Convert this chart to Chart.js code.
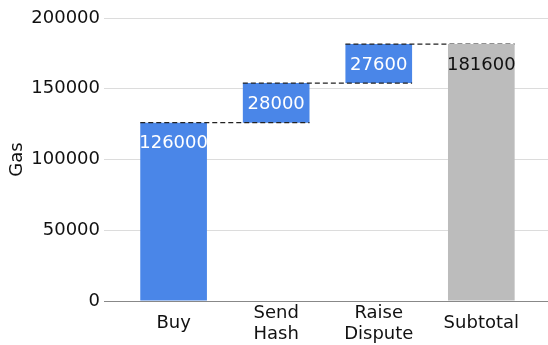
<!DOCTYPE html>
<html lang="en">
  <head>
    <meta charset="UTF-8" />
    <title>Gas waterfall</title>
    <script src="https://cdn.jsdelivr.net/npm/chart.js@4"></script>
    <style>
      html, body { margin: 0; padding: 0; background: #fff; }
      #wrap { width: 548px; height: 345px; position: relative; }
    </style>
  </head>
  <body>
    <div id="wrap"><canvas id="gasChart"></canvas></div>

    <script>
      // Data
      const categories = [["Buy"], ["Send", "Hash"], ["Raise", "Dispute"], ["Subtotal"]];
      const stepValues = [126000, 28000, 27600];
      const subtotal = [181600];
      const yTicks = [0, 50000, 100000, 150000, 200000];

      const FONT = "'DejaVu Sans', sans-serif";
      const FONT_SIZE = 18;
      const BAR_PCT = 0.65;
      const half = BAR_PCT / 2;

      // floating bars for the steps, built by cumulating
      let running = 0;
      const stepBars = stepValues.map((v, i) => {
        const bar = { x: i, y: [running, running + v], label: v };
        running += v;
        return bar;
      });
      const totalBars = subtotal.map((v, i) => ({
        x: stepValues.length + i, y: [0, v], label: v
      }));

      // dashed connectors: from left edge of bar i to right edge of bar i+1
      const connectors = stepBars.map((b, i) => ({
        type: "line",
        data: [
          { x: i - half, y: b.y[1] },
          { x: i + 1 + half, y: b.y[1] }
        ],
        borderColor: "#222",
        borderWidth: 1.3,
        borderDash: [5, 3],
        pointRadius: 0,
        fill: false,
        order: 1
      }));

      const valueLabels = {
        id: "valueLabels",
        afterDatasetsDraw(chart) {
          const ctx = chart.ctx;
          ctx.save();
          ctx.font = FONT_SIZE + "px " + FONT;
          ctx.textAlign = "center";
          ctx.textBaseline = "middle";
          chart.data.datasets.forEach((ds, di) => {
            if (ds.type !== "bar") return;
            const meta = chart.getDatasetMeta(di);
            meta.data.forEach((el, j) => {
              ctx.fillStyle = ds.labelColor;
              ctx.fillText(String(ds.data[j].label), el.x, el.y + 21);
            });
          });
          ctx.restore();
        }
      };

      new Chart(document.getElementById("gasChart"), {
        type: "bar",
        data: {
          datasets: [
            {
              type: "bar",
              data: totalBars,
              backgroundColor: "#bcbcbc",
              labelColor: "#111",
              order: 0
            },
            ...connectors,
            {
              type: "bar",
              data: stepBars,
              backgroundColor: "#4a86e8",
              labelColor: "#fff",
              order: 2
            }
          ]
        },
        options: {
          responsive: true,
          maintainAspectRatio: false,
          animation: false,
          layout: { padding: { top: 18, right: 0, bottom: 0, left: 0 } },
          datasets: {
            bar: {
              grouped: false,
              barPercentage: BAR_PCT,
              categoryPercentage: 1,
              borderWidth: 0
            }
          },
          plugins: {
            legend: { display: false },
            tooltip: { enabled: false }
          },
          scales: {
            x: {
              type: "linear",
              min: -0.62,
              max: 3.65,
              offset: false,
              grid: { display: false },
              border: { display: false },
              afterBuildTicks(scale) {
                scale.ticks = categories.map((c, i) => ({ value: i }));
              },
              afterFit(scale) { scale.height = 44; },
              ticks: {
                padding: 4,
                autoSkip: false,
                maxRotation: 0,
                crossAlign: "center",
                color: "#111",
                font: { family: FONT, size: FONT_SIZE, lineHeight: 1.18 },
                callback: (v) => {
                  const c = categories[v];
                  return c ? (c.length === 1 ? c[0] : c) : "";
                }
              }
            },
            y: {
              min: 0,
              max: 200000,
              border: { display: false },
              afterBuildTicks(scale) {
                scale.ticks = yTicks.map((v) => ({ value: v }));
              },
              afterFit(scale) { scale.width = 110; },
              grid: {
                color: (c) => (c.tick && c.tick.value === 0 ? "#888" : "#dcdcdc"),
                lineWidth: 1,
                tickLength: 6
              },
              ticks: {
                padding: 4,
                color: "#111",
                font: { family: FONT, size: FONT_SIZE },
                callback: (v) => String(v)
              },
              title: {
                display: true,
                text: "Gas",
                color: "#111",
                padding: { top: 7, bottom: 0 },
                font: { family: FONT, size: FONT_SIZE }
              }
            }
          }
        },
        plugins: [valueLabels]
      });
    </script>
  </body>
</html>
